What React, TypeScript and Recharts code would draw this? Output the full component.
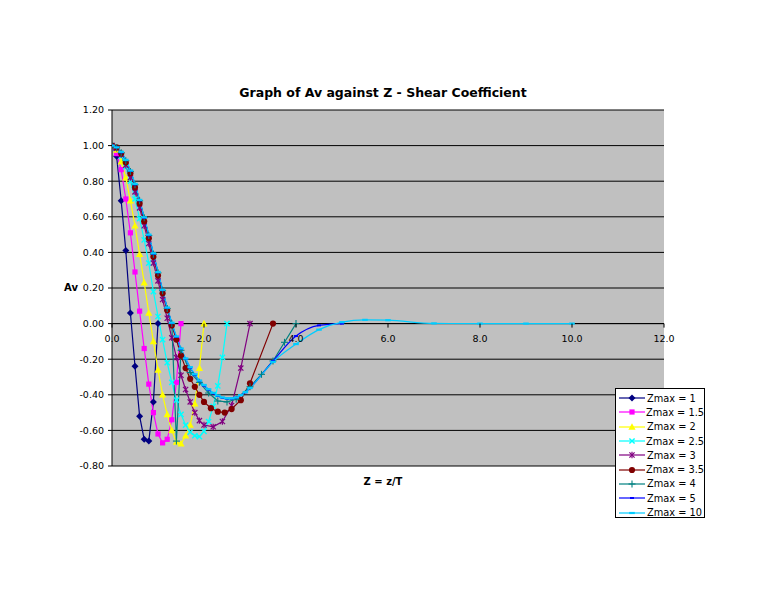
import React from "react";
import { LineChart, Line, XAxis, YAxis, CartesianGrid, ReferenceLine } from "recharts";

// sample depths, Z = z/T
const Z_BASE = [
  0, 0.1, 0.2, 0.3, 0.4, 0.5, 0.6, 0.7, 0.8, 0.9, 1.0, 1.1, 1.2, 1.3, 1.4, 1.5,
  1.6, 1.7, 1.8, 1.9, 2.0, 2.1, 2.2, 2.3, 2.4, 2.5, 2.6, 2.7, 2.8, 2.9, 3.0,
];
const Z_1 = Z_BASE.slice(0, 11);
const Z_15 = Z_BASE.slice(0, 16);
const Z_2 = Z_BASE.slice(0, 21);
const Z_25 = Z_BASE.slice(0, 26);
const Z_3 = [...Z_BASE.slice(0, 21), 2.2, 2.4, 2.6, 2.8, 3.0];
const Z_35 = [...Z_BASE.slice(0, 21), 2.15, 2.3, 2.45, 2.6, 2.8, 3.0, 3.5];
const Z_4 = [...Z_BASE.slice(0, 16), 1.7, 1.9, 2.1, 2.3, 2.5, 2.7, 3.0, 3.25, 3.5, 3.75, 4.0];
const Z_5 = [...Z_BASE, 3.5, 4.0, 4.5, 5.0];
const Z_10 = [...Z_BASE, 3.5, 4.0, 4.5, 5.0, 5.5, 6.0, 7.0, 8.0, 9.0, 10.0];

// Av values per Zmax
const AV_1 = [1.0, 0.94, 0.69, 0.41, 0.06, -0.24, -0.52, -0.65, -0.66, -0.44, 0.0];
const AV_15 = [1.0, 0.955, 0.865, 0.7, 0.51, 0.29, 0.07, -0.14, -0.34, -0.5, -0.62, -0.67, -0.65, -0.54, -0.33, 0.0];
const AV_2 = [
  1.0, 0.975, 0.91, 0.82, 0.69, 0.55, 0.39, 0.23, 0.06, -0.1, -0.26, -0.4, -0.51, -0.6, -0.665,
  -0.675, -0.63, -0.57, -0.45, -0.25, 0.0,
];
const AV_25 = [
  1.0, 0.985, 0.94, 0.88, 0.8, 0.7, 0.59, 0.47, 0.34, 0.18, 0.04, -0.09, -0.22, -0.33, -0.43,
  -0.51, -0.57, -0.61, -0.63, -0.635, -0.605, -0.55, -0.465, -0.35, -0.19, 0.0,
];
const AV_3 = [
  1.0, 0.985, 0.95, 0.89, 0.82, 0.74, 0.65, 0.55, 0.45, 0.34, 0.24, 0.135, 0.03, -0.08, -0.19,
  -0.29, -0.37, -0.44, -0.5, -0.545, -0.57, -0.58, -0.55, -0.46, -0.25, 0.0,
];
const AV_35 = [
  1.0, 0.99, 0.955, 0.905, 0.845, 0.765, 0.675, 0.575, 0.48, 0.375, 0.27, 0.17, 0.075, -0.01,
  -0.09, -0.18, -0.25, -0.31, -0.355, -0.4, -0.44, -0.475, -0.495, -0.5, -0.48, -0.43, -0.335, 0.0,
];
const AV_4 = [
  1.0, 0.99, 0.96, 0.915, 0.855, 0.78, 0.69, 0.595, 0.495, 0.39, 0.285, 0.185, 0.085, 0.0, -0.66,
  -0.15, -0.275, -0.33, -0.39, -0.435, -0.44, -0.425, -0.355, -0.285, -0.21, -0.105, 0.0,
];
const AV_5 = [
  1.0, 0.99, 0.962, 0.918, 0.858, 0.782, 0.692, 0.594, 0.496, 0.392, 0.288, 0.188, 0.088, 0.003,
  -0.075, -0.142, -0.198, -0.248, -0.288, -0.322, -0.348, -0.372, -0.392, -0.407, -0.417, -0.422,
  -0.422, -0.416, -0.402, -0.386, -0.362, -0.21, -0.07, -0.01, 0.0,
];
const AV_10 = [
  1.0, 0.99, 0.965, 0.92, 0.86, 0.785, 0.695, 0.597, 0.5, 0.395, 0.29, 0.19, 0.09, 0.005, -0.072,
  -0.14, -0.196, -0.245, -0.285, -0.32, -0.345, -0.369, -0.389, -0.404, -0.415, -0.42, -0.42,
  -0.415, -0.402, -0.385, -0.362, -0.215, -0.115, -0.034, 0.008, 0.021, 0.019, 0.001, 0.0, 0.0, 0.0,
];

const X_TICKS = [0, 2, 4, 6, 8, 10, 12];
const Y_TICKS = [-0.8, -0.6, -0.4, -0.2, 0, 0.2, 0.4, 0.6, 0.8, 1.0, 1.2];

const SERIES = [
  { name: "Zmax = 1", z: Z_1, av: AV_1, color: "#000080", shape: "diamond" },
  { name: "Zmax = 1.5", z: Z_15, av: AV_15, color: "#FF00FF", shape: "square" },
  { name: "Zmax = 2", z: Z_2, av: AV_2, color: "#FFFF00", shape: "triangle" },
  { name: "Zmax = 2.5", z: Z_25, av: AV_25, color: "#00FFFF", shape: "x" },
  { name: "Zmax = 3", z: Z_3, av: AV_3, color: "#800080", shape: "star" },
  { name: "Zmax = 3.5", z: Z_35, av: AV_35, color: "#800000", shape: "circle" },
  { name: "Zmax = 4", z: Z_4, av: AV_4, color: "#008080", shape: "plus" },
  { name: "Zmax = 5", z: Z_5, av: AV_5, color: "#0000FF", shape: "smalldash", smooth: true },
  { name: "Zmax = 10", z: Z_10, av: AV_10, color: "#00CCFF", shape: "dash", smooth: true },
];

const FONT = "'DejaVu Sans', Verdana, sans-serif";
const PLOT_TOP = 110;
const PLOT_H = 356;
const ZERO_Y = PLOT_TOP + (PLOT_H * 1.2) / 2.0;

const Marker = ({ shape, cx, cy, color }: { shape: string; cx: number; cy: number; color: string }) => {
  switch (shape) {
    case "diamond":
      return <polygon points={`${cx},${cy - 3.5} ${cx + 3.5},${cy} ${cx},${cy + 3.5} ${cx - 3.5},${cy}`} fill={color} />;
    case "square":
      return <rect x={cx - 2.6} y={cy - 2.6} width={5.2} height={5.2} fill={color} />;
    case "triangle":
      return <polygon points={`${cx},${cy - 3.8} ${cx + 3.6},${cy + 2.8} ${cx - 3.6},${cy + 2.8}`} fill={color} />;
    case "x":
      return (
        <g stroke={color} strokeWidth={1.4}>
          <line x1={cx - 2.6} y1={cy - 2.6} x2={cx + 2.6} y2={cy + 2.6} />
          <line x1={cx - 2.6} y1={cy + 2.6} x2={cx + 2.6} y2={cy - 2.6} />
        </g>
      );
    case "star":
      return (
        <g stroke={color} strokeWidth={1.2}>
          <line x1={cx - 2.6} y1={cy - 2.6} x2={cx + 2.6} y2={cy + 2.6} />
          <line x1={cx - 2.6} y1={cy + 2.6} x2={cx + 2.6} y2={cy - 2.6} />
          <line x1={cx} y1={cy - 3.2} x2={cx} y2={cy + 3.2} />
        </g>
      );
    case "circle":
      return <circle cx={cx} cy={cy} r={3.1} fill={color} />;
    case "plus":
      return (
        <g stroke={color} strokeWidth={1.1}>
          <line x1={cx - 3.5} y1={cy} x2={cx + 3.5} y2={cy} />
          <line x1={cx} y1={cy - 3.5} x2={cx} y2={cy + 3.5} />
        </g>
      );
    case "smalldash":
      return <rect x={cx - 2} y={cy - 1} width={4} height={2} fill={color} />;
    default:
      return <rect x={cx - 2.8} y={cy - 1.1} width={5.6} height={2.2} fill={color} />;
  }
};

const XTick = ({ x, payload }: any) => (
  <g>
    <line x1={x} x2={x} y1={ZERO_Y} y2={ZERO_Y + 4} stroke="#000" />
    <text x={x} y={ZERO_Y + 18} textAnchor="middle" fontSize={9.5} fontFamily={FONT} fill="#000">
      {Number(payload.value).toFixed(1)}
    </text>
  </g>
);

const ChartLegend = () => (
  <div
    style={{
      position: "absolute",
      left: 615,
      top: 388,
      width: 90,
      height: 130,
      background: "#fff",
      border: "1px solid #000",
      boxSizing: "border-box",
      fontFamily: FONT,
      fontSize: 9.8,
      paddingTop: 2,
    }}
  >
    {SERIES.map((s) => (
      <div key={s.name} style={{ height: 14.3, display: "flex", alignItems: "center" }}>
        <svg width={28} height={12} style={{ marginLeft: 2 }}>
          <line x1={1} x2={27} y1={6} y2={6} stroke={s.color} strokeWidth={1.2} />
          <Marker shape={s.shape} cx={14} cy={6} color={s.color} />
        </svg>
        <span style={{ marginLeft: 1, whiteSpace: "pre" }}>{s.name}</span>
      </div>
    ))}
  </div>
);

export default function App() {
  return (
    <div style={{ position: "absolute", left: 0, top: 0, width: 768, height: 594, background: "#fff" }}>
      <LineChart width={768} height={594} margin={{ top: 110, right: 104, bottom: 108, left: 52 }}>
        <CartesianGrid vertical={false} stroke="#000" strokeWidth={1} fill="#C0C0C0" fillOpacity={1} />
        <XAxis
          type="number"
          dataKey="z"
          domain={[0, 12]}
          ticks={X_TICKS}
          axisLine={false}
          tickLine={false}
          tick={<XTick />}
          height={20}
          allowDataOverflow
        />
        <YAxis
          type="number"
          domain={[-0.8, 1.2]}
          ticks={Y_TICKS}
          width={60}
          axisLine={{ stroke: "#000" }}
          tickLine={{ stroke: "#000" }}
          tickSize={4}
          tickMargin={4}
          tickFormatter={(v: number) => v.toFixed(2)}
          tick={{ fontSize: 9.5, fontFamily: FONT, fill: "#000" }}
          interval={0}
        />
        <ReferenceLine y={0} stroke="#000" />
        {SERIES.map((s) => (
          <Line
            key={s.name}
            data={s.z.map((z, i) => ({ z, av: s.av[i] }))}
            dataKey="av"
            name={s.name}
            type={s.smooth ? "monotone" : "linear"}
            stroke={s.color}
            strokeWidth={1.2}
            isAnimationActive={false}
            activeDot={false}
            dot={(p: any) => (
              <g key={`${s.name}-${p.index}`}>
                <Marker shape={s.shape} cx={p.cx} cy={p.cy} color={s.color} />
              </g>
            )}
          />
        ))}
      </LineChart>

      <div
        style={{
          position: "absolute",
          top: 85,
          left: 0,
          width: 766,
          textAlign: "center",
          fontFamily: FONT,
          fontWeight: "bold",
          fontSize: 12.5,
        }}
      >
        Graph of Av against Z - Shear Coefficient
      </div>
      <div
        style={{
          position: "absolute",
          top: 282,
          left: 64,
          fontFamily: FONT,
          fontWeight: "bold",
          fontSize: 10,
        }}
      >
        Av
      </div>
      <div
        style={{
          position: "absolute",
          top: 476,
          left: 0,
          width: 766,
          textAlign: "center",
          fontFamily: FONT,
          fontWeight: "bold",
          fontSize: 10,
        }}
      >
        Z = z/T
      </div>
      <ChartLegend />
    </div>
  );
}
